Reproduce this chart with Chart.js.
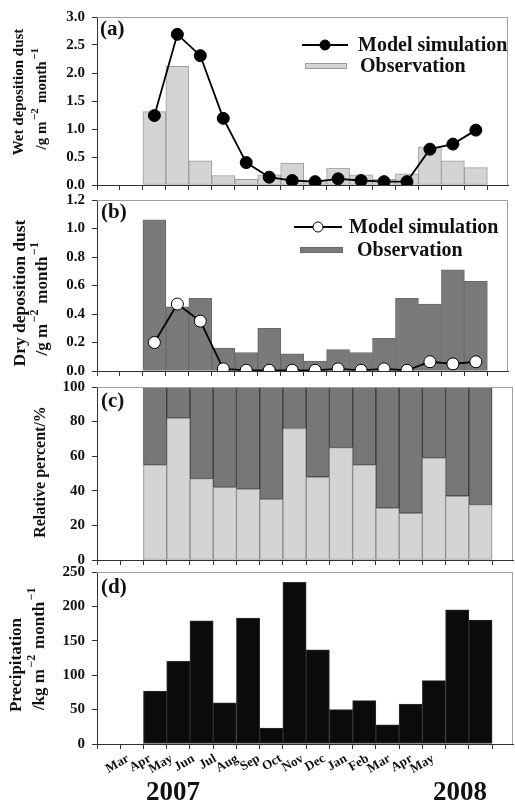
<!DOCTYPE html>
<html>
<head>
<meta charset="utf-8">
<script src="https://cdn.jsdelivr.net/npm/chart.js@4.4.0/dist/chart.umd.min.js"></script>
<style>
  body { margin: 0; background: #fff; }
  #wrap { position: relative; width: 515px; height: 801px; overflow: hidden; }
  canvas { position: absolute; left: 0; }
</style>
</head>
<body>
<div id="wrap">
  <canvas id="pa" width="515" height="201" style="top:0px"></canvas>
  <canvas id="pb" width="515" height="203" style="top:184px"></canvas>
  <canvas id="pc" width="515" height="205" style="top:371px"></canvas>
  <canvas id="pd" width="515" height="245" style="top:556px"></canvas>
</div>
<script>
// month labels under panel (d), and the two year captions
const months = ['Mar', 'Apr', 'May', 'Jun', 'Jul', 'Aug', 'Sep', 'Oct', 'Nov', 'Dec', 'Jan', 'Feb', 'Mar', 'Apr', 'May'];
const years = ['2007', '2008'];

// (a) wet deposition dust, g m-2 month-1
const wetObs   = [1.31, 2.12, 0.43, 0.17, 0.10, 0.18, 0.39, 0.08, 0.30, 0.18, 0.10, 0.20, 0.68, 0.43, 0.31];
const wetModel = [1.24, 2.69, 2.31, 1.19, 0.40, 0.14, 0.08, 0.06, 0.11, 0.08, 0.06, 0.06, 0.64, 0.73, 0.98];

// (b) dry deposition dust, g m-2 month-1
const dryObs   = [1.06, 0.45, 0.51, 0.16, 0.13, 0.30, 0.12, 0.07, 0.15, 0.13, 0.23, 0.51, 0.47, 0.71, 0.63];
const dryModel = [0.20, 0.47, 0.35, 0.015, 0.005, 0.005, 0.005, 0.005, 0.015, 0.005, 0.015, 0.005, 0.065, 0.05, 0.065];

// (c) relative percent of wet / dry
const wetPercent = [55, 82, 47, 42, 41, 35, 76, 48, 65, 55, 30, 27, 59, 37, 32];
const dryPercent = [45, 18, 53, 58, 59, 65, 24, 52, 35, 45, 70, 73, 41, 63, 68];

// (d) precipitation, kg m-2 month-1
const precip = [77, 120, 179, 60, 183, 23, 235, 137, 50, 63, 28, 58, 92, 195, 180];

const FONT = '"Liberation Serif", "Times New Roman", serif';
const INK = '#111';
const AXIS = '#333';

// bars sit in slots 2..16 of the 0..17.9 axis
const pts = vals => vals.map((v, i) => ({ x: i + 2.5, y: v }));

function drawVertical(ctx, text, x, y, size) {
  const parts = text.split(/\^\{([^}]*)\}/);
  const segs = parts.map((t, i) => ({ t, sup: i % 2 === 1 })).filter(s => s.t);
  const sup = Math.round(size * 0.72);
  let total = 0;
  segs.forEach(s => {
    ctx.font = 'bold ' + (s.sup ? sup : size) + 'px ' + FONT;
    s.w = ctx.measureText(s.t).width + (s.sup ? 3 : 0);
    total += s.w;
  });
  ctx.save();
  ctx.translate(x, y);
  ctx.rotate(-Math.PI / 2);
  ctx.textAlign = 'left';
  ctx.textBaseline = 'middle';
  ctx.fillStyle = INK;
  let cx = -total / 2;
  segs.forEach(s => {
    ctx.font = 'bold ' + (s.sup ? sup : size) + 'px ' + FONT;
    ctx.fillText(s.t, cx + (s.sup ? 1.5 : 0), s.sup ? -size * 0.45 : 0);
    cx += s.w;
  });
  ctx.restore();
}

function drawLegend(ctx, items) {
  items.forEach(it => {
    if (it.kind === 'line') {
      ctx.strokeStyle = '#000';
      ctx.lineWidth = 1.8;
      ctx.beginPath();
      ctx.moveTo(it.x, it.y);
      ctx.lineTo(it.x + it.w, it.y);
      ctx.stroke();
      ctx.beginPath();
      ctx.arc(it.x + it.w / 2, it.y, 5, 0, Math.PI * 2);
      ctx.fillStyle = it.fill;
      ctx.fill();
      ctx.lineWidth = 1;
      ctx.stroke();
    } else {
      ctx.fillStyle = it.fill;
      ctx.fillRect(it.x, it.y - it.h / 2, it.w, it.h);
      ctx.strokeStyle = it.stroke;
      ctx.lineWidth = 1;
      ctx.strokeRect(it.x + 0.5, it.y - it.h / 2 + 0.5, it.w - 1, it.h - 1);
    }
    ctx.fillStyle = INK;
    ctx.font = 'bold 20px ' + FONT;
    ctx.textAlign = 'left';
    ctx.textBaseline = 'middle';
    ctx.fillText(it.label, it.tx, it.y + 1);
  });
}

const decor = {
  id: 'decor',
  afterDraw(chart, args, o) {
    const ctx = chart.ctx;
    const a = chart.chartArea;
    ctx.save();
    // grey top and right frame
    ctx.strokeStyle = '#a0a0a0';
    ctx.lineWidth = 1;
    ctx.beginPath();
    ctx.moveTo(a.left, a.top + 0.5);
    ctx.lineTo(a.right, a.top + 0.5);
    ctx.moveTo(a.right - 0.5, a.top);
    ctx.lineTo(a.right - 0.5, a.bottom);
    ctx.stroke();

    ctx.fillStyle = INK;
    ctx.font = 'bold 21px ' + FONT;
    ctx.textAlign = 'left';
    ctx.textBaseline = 'top';
    ctx.fillText(o.letter, o.letterX, o.letterY);

    (o.titles || []).forEach(t => drawVertical(ctx, t.text, t.x, t.y, t.size));
    if (o.legend) drawLegend(ctx, o.legend);

    if (o.years) {
      ctx.fillStyle = INK;
      ctx.font = 'bold 27px ' + FONT;
      ctx.textAlign = 'center';
      ctx.textBaseline = 'alphabetic';
      o.years.forEach((y, i) => ctx.fillText(y, o.yearX[i], o.yearY));
    }
    ctx.restore();
  }
};

function xMain() {
  return {
    type: 'linear',
    position: 'bottom',
    min: 0,
    max: 17.9,
    offset: false,
    afterBuildTicks: s => { s.ticks = Array.from({ length: 18 }, (_, i) => ({ value: i })); },
    afterFit: s => { s.height = 5; },
    ticks: { display: false },
    grid: { offset: false, drawOnChartArea: false, drawTicks: true, tickLength: 5, color: AXIS },
    border: { color: AXIS, width: 1 }
  };
}

function yAxis(max, step, decimals) {
  return {
    min: 0,
    max: max,
    afterFit: s => { s.width = 97; },
    ticks: {
      stepSize: step,
      padding: 7,
      color: INK,
      font: { family: FONT, weight: 'bold', size: 15 },
      callback: v => v.toFixed(decimals)
    },
    grid: { drawOnChartArea: false, tickLength: 5, color: AXIS },
    border: { color: AXIS, width: 1 }
  };
}

function baseOptions(pad, scales, decorOpts) {
  return {
    responsive: false,
    animation: false,
    devicePixelRatio: 1,
    layout: { padding: pad },
    plugins: { legend: { display: false }, tooltip: { enabled: false }, decor: decorOpts },
    scales: scales
  };
}

function barSet(vals, fill, stroke) {
  return {
    type: 'bar',
    data: pts(vals),
    backgroundColor: fill,
    borderColor: stroke,
    borderWidth: 1,
    borderSkipped: false,
    barPercentage: 1,
    categoryPercentage: 1,
    grouped: false,
    order: 2
  };
}

function lineSet(vals, fill) {
  return {
    type: 'line',
    data: pts(vals),
    borderColor: '#000',
    borderWidth: 1.8,
    pointRadius: 6,
    pointBackgroundColor: fill,
    pointBorderColor: '#000',
    pointBorderWidth: 1,
    order: 0
  };
}

const unitTitle = '/g m^{−2} month^{−1}';

// (a)  plot area 17..185
new Chart(document.getElementById('pa'), {
  type: 'bar',
  data: { datasets: [lineSet(wetModel, '#000'), barSet(wetObs, '#d4d4d4', '#9c9c9c')] },
  options: baseOptions({ top: 17, right: 2, bottom: 11, left: 0 },
    { x: xMain(), y: yAxis(3, 0.5, 1) },
    {
      letter: '(a)', letterX: 100, letterY: 19,
      titles: [
        { text: 'Wet deposition dust', x: 19, y: 92, size: 15 },
        { text: unitTitle, x: 42, y: 98, size: 15 }
      ],
      legend: [
        { kind: 'line', fill: '#000', x: 302, w: 46, y: 45, tx: 358, label: 'Model simulation' },
        { kind: 'box', fill: '#d4d4d4', stroke: '#9c9c9c', x: 305, w: 42, h: 6, y: 66, tx: 360, label: 'Observation' }
      ]
    }),
  plugins: [decor]
});

// (b)  plot area 200..371, canvas starts at 184
new Chart(document.getElementById('pb'), {
  type: 'bar',
  data: { datasets: [lineSet(dryModel, '#fff'), barSet(dryObs, '#7a7a7a', '#686868')] },
  options: baseOptions({ top: 16, right: 2, bottom: 11, left: 0 },
    { x: xMain(), y: yAxis(1.2, 0.2, 1) },
    {
      letter: '(b)', letterX: 101, letterY: 18,
      titles: [
        { text: 'Dry deposition dust', x: 20, y: 109, size: 17.5 },
        { text: unitTitle, x: 43, y: 114, size: 17 }
      ],
      legend: [
        { kind: 'line', fill: '#fff', x: 294, w: 48, y: 43, tx: 349, label: 'Model simulation' },
        { kind: 'box', fill: '#7a7a7a', stroke: '#6a6a6a', x: 300, w: 43, h: 6, y: 66, tx: 357, label: 'Observation' }
      ]
    }),
  plugins: [decor]
});

// (c)  plot area 387..560, canvas starts at 371
const xc = xMain();
xc.stacked = true;
const yc = yAxis(100, 20, 0);
yc.stacked = true;
new Chart(document.getElementById('pc'), {
  type: 'bar',
  data: { datasets: [barSet(wetPercent, '#d4d4d4', '#8a8a8a'), barSet(dryPercent, '#777777', '#3a3a3a')] },
  options: baseOptions({ top: 16, right: 2, bottom: 11, left: 0 },
    { x: xc, y: yc },
    {
      letter: '(c)', letterX: 101, letterY: 20,
      titles: [{ text: 'Relative percent/%', x: 41, y: 101, size: 16 }]
    }),
  plugins: [decor]
});

// (d)  plot area 572..744, canvas starts at 556
const monthAxis = {
  type: 'linear',
  position: 'bottom',
  weight: 1,
  min: -0.43,
  max: 18.66,
  offset: false,
  afterBuildTicks: s => { s.ticks = months.map((m, i) => ({ value: i + 1 })); },
  afterFit: s => { s.height = 52; },
  ticks: {
    autoSkip: false,
    minRotation: 30,
    maxRotation: 30,
    padding: 2,
    color: INK,
    font: { family: FONT, weight: 'bold', size: 13 },
    callback: (v, i) => months[i]
  },
  grid: { display: false, drawTicks: false },
  border: { display: false }
};
new Chart(document.getElementById('pd'), {
  type: 'bar',
  data: { datasets: [barSet(precip, '#0b0b0b', '#2e2e2e')] },
  options: baseOptions({ top: 16, right: 2, bottom: 0, left: 0 },
    { x: xMain(), xm: monthAxis, y: yAxis(250, 50, 0) },
    {
      letter: '(d)', letterX: 101, letterY: 21,
      titles: [
        { text: 'Precipitation', x: 17, y: 109, size: 17 },
        { text: '/kg m^{−2} month^{−1}', x: 40, y: 92, size: 17 }
      ],
      years: years, yearX: [173, 460], yearY: 244
    }),
  plugins: [decor]
});
</script>
</body>
</html>
